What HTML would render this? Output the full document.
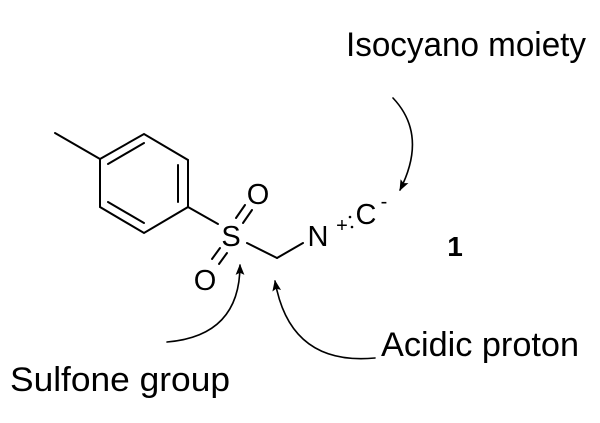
<!DOCTYPE html>
<html><head><style>
html,body{margin:0;padding:0;background:#fff;}
svg{display:block;}
text{font-family:"Liberation Sans",Arial,sans-serif;fill:#000;}
</style></head><body>
<svg width="600" height="423" viewBox="0 0 600 423">
<defs><marker id="a" viewBox="0 0 10 10" refX="9" refY="5" markerWidth="11" markerHeight="11" orient="auto" markerUnits="userSpaceOnUse"><path d="M0,1 L10,5 L0,9 L2,5 Z" fill="#000"/></marker></defs>
<g stroke="#000" stroke-width="2" fill="none" stroke-linecap="round">
<line x1="55" y1="133" x2="100" y2="159"/>
<polygon points="100,159 144,134 188,160 188,207 144,233 100,207"/>
<line x1="108" y1="164" x2="144" y2="143"/>
<line x1="178" y1="165" x2="178" y2="202"/>
<line x1="108" y1="202" x2="144" y2="223"/>
<line x1="188" y1="207" x2="218" y2="224"/>
<line x1="236" y1="218" x2="245" y2="205"/>
<line x1="243" y1="223" x2="252" y2="210"/>
<line x1="212" y1="259" x2="220" y2="248"/>
<line x1="219" y1="264" x2="227" y2="253"/>
<line x1="247" y1="243" x2="277" y2="258"/>
<line x1="277" y1="258" x2="303" y2="243"/>
<path d="M393,98 Q428,135 400,190" marker-end="url(#a)" stroke-width="1.6"/>
<path d="M167,342 Q240,336 240,265" marker-end="url(#a)" stroke-width="1.6"/>
<path d="M375,358 Q290,366 275,281" marker-end="url(#a)" stroke-width="1.6"/>
</g>
<text x="231" y="246" font-size="29" text-anchor="middle">S</text>
<text x="258" y="204" font-size="29" text-anchor="middle">O</text>
<text x="205" y="290" font-size="29" text-anchor="middle">O</text>
<text x="318" y="246" font-size="29" text-anchor="middle">N</text>
<text x="342" y="232" font-size="20" text-anchor="middle">+</text>
<circle cx="350" cy="217" r="1.3"/><circle cx="352" cy="227" r="1.3"/>
<text x="366" y="224" font-size="29" text-anchor="middle">C</text>
<text x="384" y="208" font-size="20" text-anchor="middle">-</text>
<text x="455" y="256" font-size="28" font-weight="bold" text-anchor="middle">1</text>
<text x="346" y="56" font-size="34" textLength="240" lengthAdjust="spacingAndGlyphs">Isocyano moiety</text>
<text x="381" y="356" font-size="34" textLength="198" lengthAdjust="spacingAndGlyphs">Acidic proton</text>
<text x="10" y="391" font-size="34" textLength="220" lengthAdjust="spacingAndGlyphs">Sulfone group</text>
</svg>
</body></html>
